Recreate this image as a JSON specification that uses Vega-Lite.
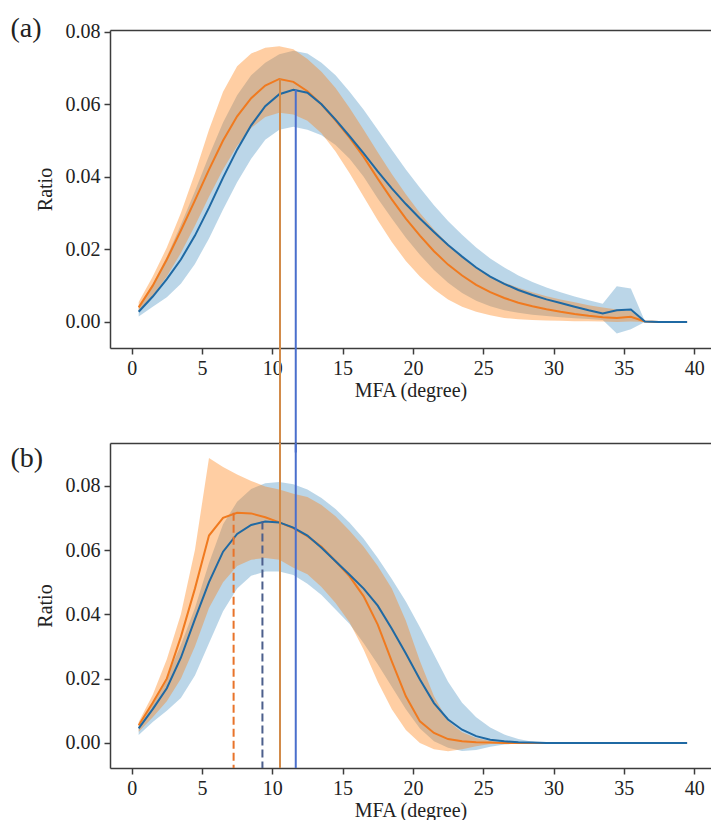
{
  "$schema": "https://vega.github.io/schema/vega-lite/v6.json",
  "background": "white",
  "padding": {"left": 10, "top": 14, "right": 0, "bottom": 0},
  "autosize": {"type": "pad"},
  "bounds": "flush",
  "spacing": 95,
  "config": {
    "view": {"stroke": null},
    "font": "Liberation Serif",
    "axis": {
      "labelFont": "Liberation Serif", "titleFont": "Liberation Serif",
      "labelFontSize": 20, "titleFontSize": 20, "titleFontWeight": "normal",
      "labelColor": "#222222", "titleColor": "#222222",
      "domainColor": "#3c3c3c", "tickColor": "#3c3c3c",
      "domainWidth": 1.5, "tickWidth": 1.5, "tickSize": 6, "grid": false, "labelPadding": 4
    }
  },
  "datasets": {
    "a": [
      {"s":"orange","x":0.5,"m":0.0040,"lo":0.0030,"hi":0.0055},
      {"s":"orange","x":1.5,"m":0.0100,"lo":0.0072,"hi":0.0125},
      {"s":"orange","x":2.5,"m":0.0172,"lo":0.0125,"hi":0.0205},
      {"s":"orange","x":3.5,"m":0.0252,"lo":0.0190,"hi":0.0300},
      {"s":"orange","x":4.5,"m":0.0335,"lo":0.0265,"hi":0.0410},
      {"s":"orange","x":5.5,"m":0.0420,"lo":0.0345,"hi":0.0530},
      {"s":"orange","x":6.5,"m":0.0500,"lo":0.0420,"hi":0.0635},
      {"s":"orange","x":7.5,"m":0.0567,"lo":0.0485,"hi":0.0705},
      {"s":"orange","x":8.5,"m":0.0617,"lo":0.0535,"hi":0.0740},
      {"s":"orange","x":9.5,"m":0.0652,"lo":0.0565,"hi":0.0756},
      {"s":"orange","x":10.5,"m":0.0670,"lo":0.0577,"hi":0.0760},
      {"s":"orange","x":11.5,"m":0.0662,"lo":0.0572,"hi":0.0752},
      {"s":"orange","x":12.5,"m":0.0636,"lo":0.0555,"hi":0.0725},
      {"s":"orange","x":13.5,"m":0.0600,"lo":0.0520,"hi":0.0690},
      {"s":"orange","x":14.5,"m":0.0556,"lo":0.0470,"hi":0.0645},
      {"s":"orange","x":15.5,"m":0.0508,"lo":0.0410,"hi":0.0590},
      {"s":"orange","x":16.5,"m":0.0455,"lo":0.0345,"hi":0.0530},
      {"s":"orange","x":17.5,"m":0.0395,"lo":0.0280,"hi":0.0468},
      {"s":"orange","x":18.5,"m":0.0338,"lo":0.0220,"hi":0.0408},
      {"s":"orange","x":19.5,"m":0.0285,"lo":0.0168,"hi":0.0352},
      {"s":"orange","x":20.5,"m":0.0238,"lo":0.0125,"hi":0.0300},
      {"s":"orange","x":21.5,"m":0.0195,"lo":0.0090,"hi":0.0255},
      {"s":"orange","x":22.5,"m":0.0158,"lo":0.0062,"hi":0.0215},
      {"s":"orange","x":23.5,"m":0.0128,"lo":0.0042,"hi":0.0180},
      {"s":"orange","x":24.5,"m":0.0102,"lo":0.0028,"hi":0.0150},
      {"s":"orange","x":25.5,"m":0.0082,"lo":0.0018,"hi":0.0126},
      {"s":"orange","x":26.5,"m":0.0066,"lo":0.0011,"hi":0.0108},
      {"s":"orange","x":27.5,"m":0.0053,"lo":0.0007,"hi":0.0094},
      {"s":"orange","x":28.5,"m":0.0043,"lo":0.0005,"hi":0.0082},
      {"s":"orange","x":29.5,"m":0.0035,"lo":0.0004,"hi":0.0071},
      {"s":"orange","x":30.5,"m":0.0028,"lo":0.0003,"hi":0.0062},
      {"s":"orange","x":31.5,"m":0.0022,"lo":0.0002,"hi":0.0054},
      {"s":"orange","x":32.5,"m":0.0017,"lo":0.0002,"hi":0.0046},
      {"s":"orange","x":33.5,"m":0.0013,"lo":0.0001,"hi":0.0040},
      {"s":"orange","x":34.5,"m":0.0011,"lo":0.0000,"hi":0.0034},
      {"s":"orange","x":35.5,"m":0.0014,"lo":0.0001,"hi":0.0030},
      {"s":"orange","x":36.5,"m":0.0001,"lo":0.0000,"hi":0.0002},
      {"s":"orange","x":37.5,"m":0,"lo":0,"hi":0},
      {"s":"orange","x":38.5,"m":0,"lo":0,"hi":0},
      {"s":"orange","x":39.5,"m":0,"lo":0,"hi":0},
      {"s":"blue","x":0.5,"m":0.0028,"lo":0.0015,"hi":0.0042},
      {"s":"blue","x":1.5,"m":0.0070,"lo":0.0042,"hi":0.0105},
      {"s":"blue","x":2.5,"m":0.0118,"lo":0.0068,"hi":0.0180},
      {"s":"blue","x":3.5,"m":0.0172,"lo":0.0105,"hi":0.0268},
      {"s":"blue","x":4.5,"m":0.0238,"lo":0.0160,"hi":0.0360},
      {"s":"blue","x":5.5,"m":0.0315,"lo":0.0230,"hi":0.0458},
      {"s":"blue","x":6.5,"m":0.0398,"lo":0.0310,"hi":0.0550},
      {"s":"blue","x":7.5,"m":0.0475,"lo":0.0385,"hi":0.0625},
      {"s":"blue","x":8.5,"m":0.0542,"lo":0.0450,"hi":0.0680},
      {"s":"blue","x":9.5,"m":0.0595,"lo":0.0502,"hi":0.0715},
      {"s":"blue","x":10.5,"m":0.0628,"lo":0.0530,"hi":0.0738},
      {"s":"blue","x":11.5,"m":0.0640,"lo":0.0538,"hi":0.0748},
      {"s":"blue","x":12.5,"m":0.0632,"lo":0.0530,"hi":0.0740},
      {"s":"blue","x":13.5,"m":0.0600,"lo":0.0515,"hi":0.0715},
      {"s":"blue","x":14.5,"m":0.0558,"lo":0.0488,"hi":0.0680},
      {"s":"blue","x":15.5,"m":0.0512,"lo":0.0450,"hi":0.0635},
      {"s":"blue","x":16.5,"m":0.0465,"lo":0.0400,"hi":0.0585},
      {"s":"blue","x":17.5,"m":0.0415,"lo":0.0340,"hi":0.0530},
      {"s":"blue","x":18.5,"m":0.0368,"lo":0.0285,"hi":0.0475},
      {"s":"blue","x":19.5,"m":0.0325,"lo":0.0232,"hi":0.0420},
      {"s":"blue","x":20.5,"m":0.0285,"lo":0.0185,"hi":0.0370},
      {"s":"blue","x":21.5,"m":0.0248,"lo":0.0143,"hi":0.0322},
      {"s":"blue","x":22.5,"m":0.0212,"lo":0.0108,"hi":0.0278},
      {"s":"blue","x":23.5,"m":0.0180,"lo":0.0080,"hi":0.0240},
      {"s":"blue","x":24.5,"m":0.0150,"lo":0.0058,"hi":0.0205},
      {"s":"blue","x":25.5,"m":0.0125,"lo":0.0043,"hi":0.0175},
      {"s":"blue","x":26.5,"m":0.0105,"lo":0.0032,"hi":0.0150},
      {"s":"blue","x":27.5,"m":0.0088,"lo":0.0025,"hi":0.0128},
      {"s":"blue","x":28.5,"m":0.0074,"lo":0.0020,"hi":0.0110},
      {"s":"blue","x":29.5,"m":0.0062,"lo":0.0016,"hi":0.0095},
      {"s":"blue","x":30.5,"m":0.0052,"lo":0.0013,"hi":0.0082},
      {"s":"blue","x":31.5,"m":0.0042,"lo":0.0010,"hi":0.0070},
      {"s":"blue","x":32.5,"m":0.0032,"lo":0.0008,"hi":0.0060},
      {"s":"blue","x":33.5,"m":0.0023,"lo":0.0005,"hi":0.0050},
      {"s":"blue","x":34.5,"m":0.0032,"lo":-0.0032,"hi":0.0098},
      {"s":"blue","x":35.5,"m":0.0034,"lo":-0.0020,"hi":0.0092},
      {"s":"blue","x":36.5,"m":0.0001,"lo":0.0000,"hi":0.0002},
      {"s":"blue","x":37.5,"m":0,"lo":0,"hi":0},
      {"s":"blue","x":38.5,"m":0,"lo":0,"hi":0},
      {"s":"blue","x":39.5,"m":0,"lo":0,"hi":0}
    ],
    "b": [
      {"s":"orange","x":0.5,"m":0.0055,"lo":0.0035,"hi":0.0065},
      {"s":"orange","x":1.5,"m":0.0125,"lo":0.0080,"hi":0.0150},
      {"s":"orange","x":2.5,"m":0.0200,"lo":0.0130,"hi":0.0260},
      {"s":"orange","x":3.5,"m":0.0330,"lo":0.0200,"hi":0.0400},
      {"s":"orange","x":4.5,"m":0.0480,"lo":0.0300,"hi":0.0600},
      {"s":"orange","x":5.5,"m":0.0645,"lo":0.0420,"hi":0.0886},
      {"s":"orange","x":6.5,"m":0.0700,"lo":0.0500,"hi":0.0858},
      {"s":"orange","x":7.5,"m":0.0716,"lo":0.0550,"hi":0.0835},
      {"s":"orange","x":8.5,"m":0.0714,"lo":0.0570,"hi":0.0815},
      {"s":"orange","x":9.5,"m":0.0702,"lo":0.0575,"hi":0.0798},
      {"s":"orange","x":10.5,"m":0.0686,"lo":0.0570,"hi":0.0788},
      {"s":"orange","x":11.5,"m":0.0668,"lo":0.0545,"hi":0.0775},
      {"s":"orange","x":12.5,"m":0.0643,"lo":0.0525,"hi":0.0765},
      {"s":"orange","x":13.5,"m":0.0610,"lo":0.0485,"hi":0.0740},
      {"s":"orange","x":14.5,"m":0.0565,"lo":0.0435,"hi":0.0705},
      {"s":"orange","x":15.5,"m":0.0518,"lo":0.0375,"hi":0.0660},
      {"s":"orange","x":16.5,"m":0.0456,"lo":0.0290,"hi":0.0610},
      {"s":"orange","x":17.5,"m":0.0368,"lo":0.0190,"hi":0.0550},
      {"s":"orange","x":18.5,"m":0.0254,"lo":0.0105,"hi":0.0480},
      {"s":"orange","x":19.5,"m":0.0145,"lo":0.0040,"hi":0.0380},
      {"s":"orange","x":20.5,"m":0.0067,"lo":0.0000,"hi":0.0255},
      {"s":"orange","x":21.5,"m":0.0031,"lo":-0.0020,"hi":0.0145},
      {"s":"orange","x":22.5,"m":0.0012,"lo":-0.0026,"hi":0.0068},
      {"s":"orange","x":23.5,"m":0.0005,"lo":-0.0020,"hi":0.0033},
      {"s":"orange","x":24.5,"m":0.0002,"lo":-0.0010,"hi":0.0015},
      {"s":"orange","x":25.5,"m":0.0001,"lo":-0.0003,"hi":0.0006},
      {"s":"orange","x":26.5,"m":0,"lo":0,"hi":0},
      {"s":"orange","x":27.5,"m":0,"lo":0,"hi":0},
      {"s":"orange","x":28.5,"m":0,"lo":0,"hi":0},
      {"s":"orange","x":29.5,"m":0,"lo":0,"hi":0},
      {"s":"orange","x":30.5,"m":0,"lo":0,"hi":0},
      {"s":"orange","x":31.5,"m":0,"lo":0,"hi":0},
      {"s":"orange","x":32.5,"m":0,"lo":0,"hi":0},
      {"s":"orange","x":33.5,"m":0,"lo":0,"hi":0},
      {"s":"orange","x":34.5,"m":0,"lo":0,"hi":0},
      {"s":"orange","x":35.5,"m":0,"lo":0,"hi":0},
      {"s":"orange","x":36.5,"m":0,"lo":0,"hi":0},
      {"s":"orange","x":37.5,"m":0,"lo":0,"hi":0},
      {"s":"orange","x":38.5,"m":0,"lo":0,"hi":0},
      {"s":"orange","x":39.5,"m":0,"lo":0,"hi":0},
      {"s":"blue","x":0.5,"m":0.0045,"lo":0.0025,"hi":0.0055},
      {"s":"blue","x":1.5,"m":0.0105,"lo":0.0065,"hi":0.0125},
      {"s":"blue","x":2.5,"m":0.0170,"lo":0.0100,"hi":0.0205},
      {"s":"blue","x":3.5,"m":0.0265,"lo":0.0140,"hi":0.0305},
      {"s":"blue","x":4.5,"m":0.0385,"lo":0.0210,"hi":0.0420},
      {"s":"blue","x":5.5,"m":0.0500,"lo":0.0310,"hi":0.0560},
      {"s":"blue","x":6.5,"m":0.0595,"lo":0.0410,"hi":0.0680},
      {"s":"blue","x":7.5,"m":0.0650,"lo":0.0480,"hi":0.0750},
      {"s":"blue","x":8.5,"m":0.0678,"lo":0.0520,"hi":0.0790},
      {"s":"blue","x":9.5,"m":0.0689,"lo":0.0533,"hi":0.0808},
      {"s":"blue","x":10.5,"m":0.0686,"lo":0.0533,"hi":0.0812},
      {"s":"blue","x":11.5,"m":0.0670,"lo":0.0522,"hi":0.0805},
      {"s":"blue","x":12.5,"m":0.0645,"lo":0.0495,"hi":0.0788},
      {"s":"blue","x":13.5,"m":0.0607,"lo":0.0460,"hi":0.0762},
      {"s":"blue","x":14.5,"m":0.0565,"lo":0.0415,"hi":0.0728},
      {"s":"blue","x":15.5,"m":0.0523,"lo":0.0370,"hi":0.0685},
      {"s":"blue","x":16.5,"m":0.0480,"lo":0.0310,"hi":0.0635},
      {"s":"blue","x":17.5,"m":0.0427,"lo":0.0245,"hi":0.0575},
      {"s":"blue","x":18.5,"m":0.0355,"lo":0.0175,"hi":0.0510},
      {"s":"blue","x":19.5,"m":0.0278,"lo":0.0105,"hi":0.0440},
      {"s":"blue","x":20.5,"m":0.0197,"lo":0.0045,"hi":0.0360},
      {"s":"blue","x":21.5,"m":0.0124,"lo":0.0005,"hi":0.0275},
      {"s":"blue","x":22.5,"m":0.0073,"lo":-0.0015,"hi":0.0190},
      {"s":"blue","x":23.5,"m":0.0041,"lo":-0.0025,"hi":0.0125},
      {"s":"blue","x":24.5,"m":0.0021,"lo":-0.0022,"hi":0.0080},
      {"s":"blue","x":25.5,"m":0.0010,"lo":-0.0012,"hi":0.0048},
      {"s":"blue","x":26.5,"m":0.0005,"lo":-0.0005,"hi":0.0026},
      {"s":"blue","x":27.5,"m":0.0002,"lo":-0.0002,"hi":0.0012},
      {"s":"blue","x":28.5,"m":0.0001,"lo":0,"hi":0.0004},
      {"s":"blue","x":29.5,"m":0,"lo":0,"hi":0},
      {"s":"blue","x":30.5,"m":0,"lo":0,"hi":0},
      {"s":"blue","x":31.5,"m":0,"lo":0,"hi":0},
      {"s":"blue","x":32.5,"m":0,"lo":0,"hi":0},
      {"s":"blue","x":33.5,"m":0,"lo":0,"hi":0},
      {"s":"blue","x":34.5,"m":0,"lo":0,"hi":0},
      {"s":"blue","x":35.5,"m":0,"lo":0,"hi":0},
      {"s":"blue","x":36.5,"m":0,"lo":0,"hi":0},
      {"s":"blue","x":37.5,"m":0,"lo":0,"hi":0},
      {"s":"blue","x":38.5,"m":0,"lo":0,"hi":0},
      {"s":"blue","x":39.5,"m":0,"lo":0,"hi":0}
    ],
    "va": [
      {"s":"orange","x":10.55,"y":0.067,"y2":-0.036},
      {"s":"blue","x":11.67,"y":0.064,"y2":-0.036}
    ],
    "vb": [
      {"s":"orange","x":10.55,"y":0.0933,"y2":-0.0078},
      {"s":"blue","x":11.67,"y":0.0933,"y2":-0.0078}
    ],
    "db": [
      {"s":"orange","x":7.25,"y":0.0716,"y2":-0.0078},
      {"s":"blue","x":9.3,"y":0.0689,"y2":-0.0078}
    ]
  },
  "vconcat": [
    {
      "width": 601, "height": 318,
      "resolve": {"axis": {"x": "independent", "y": "independent"}, "scale": {"color": "independent"}},
      "layer": [
        {
          "data": {"name": "a"},
          "transform": [{"filter": "datum.s === 'blue'"}],
          "mark": {"type": "area", "color": "#1f77b4", "opacity": 0.3},
          "encoding": {
            "x": {"field": "x", "type": "quantitative", "scale": {"domain": [-1.54, 41.2], "nice": false, "zero": false},
                  "axis": {"orient": "bottom", "values": [0,5,10,15,20,25,30,35,40], "title": "MFA (degree)", "titlePadding": 2}},
            "y": {"field": "lo", "type": "quantitative", "scale": {"domain": [-0.0072, 0.0805], "nice": false, "zero": false},
                  "axis": {"values": [0,0.02,0.04,0.06,0.08], "format": ".2f", "title": "Ratio", "titlePadding": 10}},
            "y2": {"field": "hi"}
          }
        },
        {
          "data": {"name": "a"},
          "transform": [{"filter": "datum.s === 'orange'"}],
          "mark": {"type": "area", "color": "#ff7f0e", "opacity": 0.38},
          "encoding": {
            "x": {"field": "x", "type": "quantitative", "axis": null},
            "y": {"field": "lo", "type": "quantitative", "axis": null},
            "y2": {"field": "hi"}
          }
        },
        {
          "data": {"name": "a"},
          "mark": {"type": "line", "strokeWidth": 2},
          "encoding": {
            "x": {"field": "x", "type": "quantitative",
                  "axis": {"orient": "top", "labels": false, "ticks": false, "title": "(a)", "titleX": -100, "titleY": -2, "titleAngle": 0, "titleAlign": "left", "titleBaseline": "middle", "titleFontSize": 28}},
            "y": {"field": "m", "type": "quantitative", "axis": null},
            "color": {"field": "s", "type": "nominal", "scale": {"domain": ["blue","orange"], "range": ["#1f69a3","#f07a1f"]}, "legend": null}
          }
        },
        {
          "data": {"name": "va"},
          "mark": {"type": "rule", "strokeWidth": 2},
          "encoding": {
            "x": {"field": "x", "type": "quantitative", "axis": null},
            "y": {"field": "y", "type": "quantitative", "axis": null},
            "y2": {"field": "y2"},
            "color": {"field": "s", "type": "nominal", "scale": {"domain": ["blue","orange"], "range": ["#4a6fcc","#d28b4a"]}, "legend": null}
          }
        }
      ]
    },
    {
      "width": 601, "height": 325,
      "resolve": {"axis": {"x": "independent", "y": "independent"}, "scale": {"color": "independent"}},
      "layer": [
        {
          "data": {"name": "b"},
          "transform": [{"filter": "datum.s === 'blue'"}],
          "mark": {"type": "area", "color": "#1f77b4", "opacity": 0.3},
          "encoding": {
            "x": {"field": "x", "type": "quantitative", "scale": {"domain": [-1.54, 41.2], "nice": false, "zero": false},
                  "axis": {"orient": "bottom", "values": [0,5,10,15,20,25,30,35,40], "title": "MFA (degree)", "titlePadding": 2}},
            "y": {"field": "lo", "type": "quantitative", "scale": {"domain": [-0.0078, 0.0933], "nice": false, "zero": false},
                  "axis": {"values": [0,0.02,0.04,0.06,0.08], "format": ".2f", "title": "Ratio", "titlePadding": 10}},
            "y2": {"field": "hi"}
          }
        },
        {
          "data": {"name": "b"},
          "transform": [{"filter": "datum.s === 'orange'"}],
          "mark": {"type": "area", "color": "#ff7f0e", "opacity": 0.38},
          "encoding": {
            "x": {"field": "x", "type": "quantitative", "axis": null},
            "y": {"field": "lo", "type": "quantitative", "axis": null},
            "y2": {"field": "hi"}
          }
        },
        {
          "data": {"name": "b"},
          "mark": {"type": "line", "strokeWidth": 2},
          "encoding": {
            "x": {"field": "x", "type": "quantitative",
                  "axis": {"orient": "top", "labels": false, "ticks": false, "title": "(b)", "titleX": -100, "titleY": 15, "titleAngle": 0, "titleAlign": "left", "titleBaseline": "middle", "titleFontSize": 28}},
            "y": {"field": "m", "type": "quantitative", "axis": null},
            "color": {"field": "s", "type": "nominal", "scale": {"domain": ["blue","orange"], "range": ["#1f69a3","#f07a1f"]}, "legend": null}
          }
        },
        {
          "data": {"name": "vb"},
          "mark": {"type": "rule", "strokeWidth": 2},
          "encoding": {
            "x": {"field": "x", "type": "quantitative", "axis": null},
            "y": {"field": "y", "type": "quantitative", "axis": null},
            "y2": {"field": "y2"},
            "color": {"field": "s", "type": "nominal", "scale": {"domain": ["blue","orange"], "range": ["#4a6fcc","#d28b4a"]}, "legend": null}
          }
        },
        {
          "data": {"name": "db"},
          "mark": {"type": "rule", "strokeWidth": 2, "strokeDash": [8, 4]},
          "encoding": {
            "x": {"field": "x", "type": "quantitative", "axis": null},
            "y": {"field": "y", "type": "quantitative", "axis": null},
            "y2": {"field": "y2"},
            "color": {"field": "s", "type": "nominal", "scale": {"domain": ["blue","orange"], "range": ["#4c5f8c","#e8732a"]}, "legend": null}
          }
        }
      ]
    }
  ]
}
